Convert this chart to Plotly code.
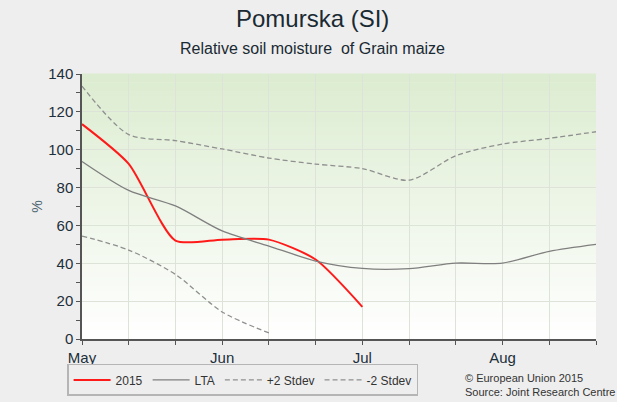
import plotly.graph_objects as go

# Dekad positions (three per month) and month labels
dekad_index = list(range(12))
month_ticks = [0, 3, 6, 9]
month_labels = ["May", "Jun", "Jul", "Aug"]

# Relative soil moisture (%) per dekad
sm_2015 = [113.5, 92.5, 52.0, 52.5, 52.5, 42.0, 17.0]
sm_lta = [93.8, 78.5, 70.3, 57.1, 49.1, 41.2, 37.3, 37.2, 40.1, 40.1, 46.3, 50.0]
sm_plus2 = [133.6, 108.0, 104.8, 100.4, 95.6, 92.4, 90.0, 83.9, 96.8, 103.0, 106.0, 109.5]
sm_minus2 = [54.4, 47.0, 34.1, 14.3, 3.2]

FONT = "Liberation Sans, Arial, sans-serif"
TXT = "#1c2f3a"

fig = go.Figure()

fig.add_trace(go.Scatter(
    x=dekad_index[:len(sm_2015)], y=sm_2015, name="2015", mode="lines",
    line=dict(color="#ff1a1a", width=2, shape="spline", smoothing=0.65),
))
fig.add_trace(go.Scatter(
    x=dekad_index[:len(sm_lta)], y=sm_lta, name="LTA", mode="lines",
    line=dict(color="#7f7f7f", width=1.3, shape="spline", smoothing=0.8),
))
fig.add_trace(go.Scatter(
    x=dekad_index[:len(sm_plus2)], y=sm_plus2, name="+2 Stdev", mode="lines",
    line=dict(color="#8f8f8f", width=1.3, dash="5px,3px", shape="spline", smoothing=0.8),
))
fig.add_trace(go.Scatter(
    x=dekad_index[:len(sm_minus2)], y=sm_minus2, name="-2 Stdev", mode="lines",
    line=dict(color="#8f8f8f", width=1.3, dash="5px,3px", shape="spline", smoothing=0.8),
))

# Green-to-white vertical gradient behind the plot area
top_rgb = (220, 236, 208)
bot_rgb = (255, 255, 255)
n_bands = 60
shapes = []
for i in range(n_bands):
    t = i / (n_bands - 1)
    r = round(bot_rgb[0] + (top_rgb[0] - bot_rgb[0]) * t)
    g = round(bot_rgb[1] + (top_rgb[1] - bot_rgb[1]) * t)
    b = round(bot_rgb[2] + (top_rgb[2] - bot_rgb[2]) * t)
    shapes.append(dict(
        type="rect", xref="x domain", yref="y domain",
        x0=0, x1=1, y0=i / n_bands, y1=(i + 1) / n_bands + 0.002,
        fillcolor=f"rgb({r},{g},{b})", line=dict(width=0), layer="below",
    ))

tick_text = ["" for _ in dekad_index]
for pos, lab in zip(month_ticks, month_labels):
    tick_text[pos] = lab

fig.update_layout(
    width=617, height=402,
    margin=dict(l=82, r=21, t=74, b=63, autoexpand=False),
    paper_bgcolor="#eeeeee",
    plot_bgcolor="white",
    font=dict(family=FONT, color=TXT),
    shapes=shapes,
    showlegend=True,
    legend=dict(
        orientation="h", x=-0.029, y=-0.094, xanchor="left", yanchor="top",
        bgcolor="#eeeeee", bordercolor="#b5b5b5", borderwidth=1.5,
        itemwidth=37,
        font=dict(size=12, color="#333333", family=FONT),
    ),
    annotations=[
        dict(text="Pomurska (SI)", xref="paper", yref="paper", x=0.449, y=1.211,
             xanchor="center", yanchor="middle", showarrow=False,
             font=dict(size=24, color="#1a2a33", family=FONT)),
        dict(text="Relative soil moisture  of Grain maize", xref="paper", yref="paper",
             x=0.449, y=1.098, xanchor="center", yanchor="middle", showarrow=False,
             font=dict(size=16, color="#1a2a33", family=FONT)),
        dict(text="© European Union 2015", xref="paper", yref="paper", x=0.741, y=-0.147,
             xanchor="left", yanchor="middle", showarrow=False,
             font=dict(size=11, color="#333333", family=FONT)),
        dict(text="Source: Joint Research Centre", xref="paper", yref="paper", x=0.741, y=-0.2,
             xanchor="left", yanchor="middle", showarrow=False,
             font=dict(size=11, color="#333333", family=FONT)),
    ],
)

fig.update_xaxes(
    range=[0, 11], tickvals=dekad_index, ticktext=tick_text,
    showgrid=True, gridcolor="#dde3d8", gridwidth=1,
    showline=True, linecolor="#555555", linewidth=1.5,
    ticks="outside", ticklen=4, tickcolor="#555555",
    tickfont=dict(size=15, color=TXT), zeroline=False,
)
fig.update_yaxes(
    range=[0, 140], dtick=20,
    showgrid=True, gridcolor="#dde3d8", gridwidth=1,
    showline=True, linecolor="#555555", linewidth=1.5,
    ticks="outside", ticklen=4, tickcolor="#555555",
    minor=dict(dtick=10, ticks="outside", ticklen=4, tickcolor="#555555", showgrid=False),
    tickfont=dict(size=15, color=TXT), zeroline=False,
    title=dict(text="%", font=dict(size=14, color="#4d6570"), standoff=2),
)

fig.write_html("out.html")
